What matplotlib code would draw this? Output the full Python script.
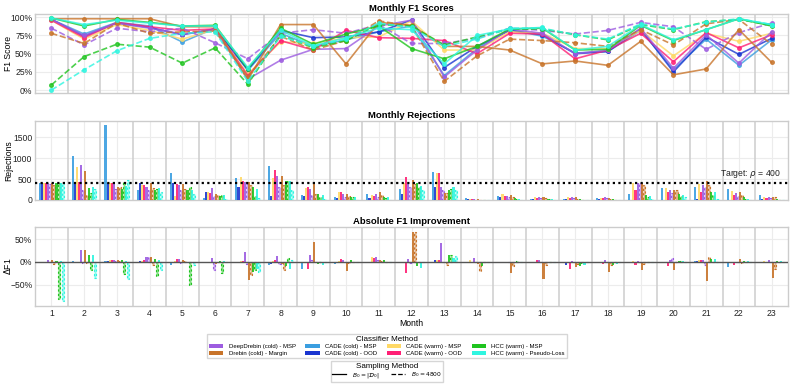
import numpy as np
import matplotlib
matplotlib.use("Agg")
import matplotlib.pyplot as plt
from matplotlib.patches import Patch
from matplotlib.lines import Line2D
from matplotlib.ticker import FuncFormatter
import matplotlib.colors as mcolors

plt.rcParams['font.family'] = ['Liberation Sans', 'DejaVu Sans']

months = list(range(1, 24))

# ---------------- data ----------------
methods = ['CADE (cold) - MSP', 'CADE (cold) - OOD', 'CADE (warm) - MSP', 'CADE (warm) - OOD',
           'DeepDrebin (cold) - MSP', 'Drebin (cold) - Margin', 'HCC (warm) - MSP', 'HCC (warm) - Pseudo-Loss']
colors = {'CADE (cold) - MSP': '#3a9ee0', 'CADE (cold) - OOD': '#1a35d0',
          'CADE (warm) - MSP': '#ffd966', 'CADE (warm) - OOD': '#ff1f75',
          'DeepDrebin (cold) - MSP': '#9d5ce0', 'Drebin (cold) - Margin': '#c8742a',
          'HCC (warm) - MSP': '#1fc41f', 'HCC (warm) - Pseudo-Loss': '#2ff5e0'}
legend_order = ['DeepDrebin (cold) - MSP', 'Drebin (cold) - Margin', 'CADE (cold) - MSP', 'CADE (cold) - OOD',
                'CADE (warm) - MSP', 'CADE (warm) - OOD', 'HCC (warm) - MSP', 'HCC (warm) - Pseudo-Loss']
sampling = ['full', '4800']

# Monthly F1 (%)
f1_cade_cold_msp = [97, 77, 93, 88, 66, 85, 27, 78, 60, 69, 80, 88, 20, 57, 83, 74, 51, 53, 82, 28, 70, 34, 69]
f1_cade_cold_ood = [97, 74, 92, 86, 76, 84, 28, 82, 72, 73, 80, 96, 31, 60, 82, 76, 50, 53, 84, 25, 73, 49, 71]
f1_cade_warm_msp = [96, 70, 90, 82, 70, 83, 22, 66, 64, 72, 73, 95, 55, 55, 80, 78, 57, 57, 82, 47, 78, 67, 78]
f1_cade_warm_ood = [96, 72, 93, 87, 82, 84, 20, 68, 55, 82, 72, 71, 68, 50, 78, 77, 43, 55, 78, 39, 79, 58, 76]
f1_deepdrebin = [97, 75, 92, 85, 77, 83, 15, 41, 56, 57, 88, 96, 18, 55, 84, 78, 50, 55, 85, 30, 76, 37, 80]
f1_deepdrebin_4800 = [85, 62, 85, 80, 85, 65, 43, 78, 83, 78, 90, 64, 64, 71, 85, 82, 77, 82, 93, 87, 56, 79, 92]
f1_drebin = [98, 98, 98, 98, 87, 87, 14, 90, 90, 36, 93, 89, 60, 60, 55, 36, 40, 34, 67, 21, 29, 83, 38]
f1_drebin_4800 = [78, 64, 92, 78, 80, 81, 18, 74, 55, 68, 95, 88, 12, 47, 70, 68, 65, 60, 83, 62, 91, 97, 63]
f1_hcc_msp = [99, 88, 97, 93, 88, 89, 29, 85, 63, 77, 88, 57, 43, 60, 84, 85, 55, 56, 89, 68, 83, 98, 88]
f1_hcc_msp_4800 = [7, 46, 63, 59, 37, 58, 8, 76, 58, 68, 90, 88, 62, 73, 84, 84, 76, 69, 90, 83, 94, 97, 89]
f1_hcc_pl = [99, 90, 96, 92, 88, 88, 31, 82, 61, 72, 85, 83, 36, 75, 84, 86, 55, 60, 90, 69, 83, 98, 90]
f1_hcc_pl_4800 = [0, 28, 54, 71, 78, 80, 12, 74, 60, 70, 92, 86, 60, 70, 85, 85, 76, 70, 91, 84, 93, 98, 90]

# Monthly rejections
rej_cade_cold_msp = [400, 1050, 1800, 250, 640, 40, 520, 820, 110, 80, 150, 270, 660, 40, 90, 20, 20, 40, 150, 290, 300, 260, 120]
rej_cade_cold_ood = [400, 430, 400, 400, 400, 180, 320, 100, 100, 40, 40, 140, 320, 20, 60, 20, 30, 30, 10, 10, 20, 10, 20]
rej_cade_warm_msp = [400, 800, 400, 370, 100, 180, 560, 530, 280, 180, 130, 400, 650, 20, 150, 60, 60, 50, 400, 290, 380, 220, 80]
rej_cade_warm_ood = [400, 430, 400, 370, 390, 170, 460, 720, 310, 180, 100, 560, 640, 20, 100, 50, 40, 50, 240, 200, 200, 130, 40]
rej_deepdrebin = [400, 830, 380, 320, 370, 280, 420, 570, 270, 150, 150, 390, 320, 20, 100, 70, 60, 70, 400, 240, 370, 160, 70]
rej_deepdrebin_4800 = [380, 250, 270, 230, 240, 100, 380, 310, 130, 70, 80, 300, 230, 10, 60, 40, 40, 40, 400, 160, 300, 100, 40]
rej_drebin = [400, 690, 320, 400, 380, 150, 430, 580, 390, 150, 180, 490, 170, 20, 130, 80, 60, 50, 400, 250, 460, 200, 80]
rej_drebin_4800 = [350, 120, 320, 290, 270, 120, 350, 350, 150, 90, 120, 380, 170, 10, 60, 40, 30, 30, 360, 250, 350, 130, 60]
rej_hcc_msp = [400, 290, 270, 250, 250, 100, 320, 460, 140, 80, 60, 400, 250, 5, 40, 30, 20, 20, 120, 150, 180, 60, 20]
rej_hcc_msp_4800 = [400, 170, 420, 270, 300, 130, 100, 450, 80, 70, 40, 300, 270, 5, 30, 20, 10, 10, 60, 100, 120, 30, 10]
rej_hcc_pl = [400, 320, 330, 290, 240, 130, 270, 460, 130, 60, 60, 330, 320, 5, 20, 20, 10, 10, 100, 120, 180, 30, 10]
rej_hcc_pl_4800 = [400, 270, 480, 190, 140, 30, 40, 230, 20, 10, 10, 230, 230, 5, 10, 10, 5, 5, 30, 60, 20, 5, 5]
target_rho = 400

# Absolute F1 improvement (%)
d_cade_cold_msp = [0, 2, 2, -2, -7, 0, -2, -7, -15, -4, 0, 0, 0, -3, -2, 0, 0, -1, 0, 0, 2, -12, 0]
d_cade_cold_ood = [0, 0, 2, 1, -2, 0, 0, -4, -2, 0, 0, 0, 3, -2, -2, 0, -8, 0, 0, 0, 2, 0, 0]
d_cade_warm_msp = [0, 0, 3, 2, 1, 0, 2, 1, -3, 2, 10, 0, 4, 3, -1, 0, 0, 0, 1, 0, 4, -3, 1]
d_cade_warm_ood = [0, 0, 4, 3, 6, 0, 2, 3, -16, 7, 8, -25, 4, -2, -3, 3, -16, -5, -8, -10, 4, -7, 0]
d_deepdrebin = [3, 26, 5, 10, 6, 9, 21, 12, 14, 3, 10, 7, 42, 8, 0, 4, 2, 3, 2, 4, 5, -2, 3]
d_deepdrebin_4800 = [0, -3, 2, 10, -2, -18, -5, -5, 5, 0, 5, -2, 0, 0, 0, 0, 0, 0, 0, 9, -8, 0, 0]
d_drebin = [3, 26, 3, 10, 4, -4, -40, -5, 43, -20, 3, 65, 0, -5, -25, -38, -12, -22, -17, -17, -43, 7, -35]
d_drebin_4800 = [-5, -3, 2, -7, 1, 0, -30, -17, 0, -2, 2, 65, -8, -20, -10, -6, -5, -7, -4, 0, 10, -3, -15]
d_hcc_msp = [2, 14, 4, 7, -3, 2, -23, -10, -5, 3, 3, -10, 15, -10, 0, 0, -10, -8, 0, 2, 7, 2, 2]
d_hcc_msp_4800 = [-82, -17, -27, -32, -50, -24, -18, 9, 0, 0, 0, 0, 15, 0, 1, 0, -3, 0, 0, 2, 0, 0, 0]
d_hcc_pl = [1, 15, 2, 4, -2, 2, -15, -15, -8, -3, -3, -13, 8, -2, 0, 0, -8, -5, 0, 2, 7, 1, 2]
d_hcc_pl_4800 = [-87, -36, -37, -18, -8, 0, -22, 4, 0, 0, 0, 0, 13, 0, 0, 0, 0, 0, 0, 0, 0, 0, 0]

series = [
    ('CADE (cold) - MSP', 'full', f1_cade_cold_msp, rej_cade_cold_msp, d_cade_cold_msp),
    ('CADE (cold) - OOD', 'full', f1_cade_cold_ood, rej_cade_cold_ood, d_cade_cold_ood),
    ('CADE (warm) - MSP', 'full', f1_cade_warm_msp, rej_cade_warm_msp, d_cade_warm_msp),
    ('CADE (warm) - OOD', 'full', f1_cade_warm_ood, rej_cade_warm_ood, d_cade_warm_ood),
    ('DeepDrebin (cold) - MSP', 'full', f1_deepdrebin, rej_deepdrebin, d_deepdrebin),
    ('DeepDrebin (cold) - MSP', '4800', f1_deepdrebin_4800, rej_deepdrebin_4800, d_deepdrebin_4800),
    ('Drebin (cold) - Margin', 'full', f1_drebin, rej_drebin, d_drebin),
    ('Drebin (cold) - Margin', '4800', f1_drebin_4800, rej_drebin_4800, d_drebin_4800),
    ('HCC (warm) - MSP', 'full', f1_hcc_msp, rej_hcc_msp, d_hcc_msp),
    ('HCC (warm) - MSP', '4800', f1_hcc_msp_4800, rej_hcc_msp_4800, d_hcc_msp_4800),
    ('HCC (warm) - Pseudo-Loss', 'full', f1_hcc_pl, rej_hcc_pl, d_hcc_pl),
    ('HCC (warm) - Pseudo-Loss', '4800', f1_hcc_pl_4800, rej_hcc_pl_4800, d_hcc_pl_4800),
]

# ---------------- figure ----------------
W, H = 793, 385
fig = plt.figure(figsize=(W / 100, H / 100), dpi=100)
LEFT, RIGHT = 35, 788

def ax_at(top, bottom, left=LEFT, right=RIGHT):
    return fig.add_axes([left / W, 1 - bottom / H, (right - left) / W, (bottom - top) / H])

ax1 = ax_at(14, 93)
ax2 = ax_at(121, 200)
ax3 = ax_at(227, 306)

x = np.array(months, dtype=float)
nb = len(series)
bw = 0.063

def lighten(c, f=0.5):
    r, g, b = mcolors.to_rgb(c)
    return (r + (1 - r) * f, g + (1 - g) * f, b + (1 - b) * f)

ylab_x = (13 - LEFT) / (RIGHT - LEFT)

for ax in (ax1, ax2, ax3):
    ax.set_facecolor('white')
    ax.set_xlim(0.5, 23.5)
    ax.set_xticks(months)
    ax.grid(True, color='#ececec', lw=0.8)
    ax.set_axisbelow(True)
    for m in months[:-1]:
        ax.axvline(m + 0.5, color='#cdcdcd', lw=1.1, zorder=1)
    for s in ax.spines.values():
        s.set_color('#cccccc')
        s.set_linewidth(1.0)
    ax.tick_params(axis='both', length=0, labelsize=6.2, pad=2, colors='#222222')

# Top: F1 lines
for name, samp, f1, _, _ in series:
    ls = '-' if samp == 'full' else '--'
    ax1.plot(x, np.array(f1) / 100, ls=ls, color=colors[name], lw=1.2, marker='o', ms=2.6, alpha=0.8, zorder=3)
ax1.set_ylim(-0.04, 1.045)
ax1.set_yticks([0, 0.25, 0.5, 0.75, 1.0])
ax1.yaxis.set_major_formatter(FuncFormatter(lambda v, p: f"{v*100:.0f}%"))
ax1.set_xticklabels([])
ax1.set_ylabel('F1 Score', fontsize=6.2)
ax1.set_title('Monthly F1 Scores', fontsize=6.8, fontweight='bold', pad=2.5)

# Middle: rejections / bottom: delta
for i, (name, samp, _, rej, d) in enumerate(series):
    xo = x + (i - (nb - 1) / 2) * bw
    c = colors[name]
    for ax, vals in ((ax2, np.array(rej, dtype=float)), (ax3, np.array(d) / 100)):
        if samp == 'full':
            ax.bar(xo, vals, width=bw, color=c, alpha=0.9, lw=0, zorder=3)
        else:
            ax.bar(xo, vals, width=bw, facecolor=lighten(c, 0.45), edgecolor=c,
                   linestyle=(0, (2, 2)), lw=0.8, zorder=3)

ax2.axhline(target_rho, color='black', ls=(0, (1, 1.5)), lw=1.6, zorder=4)
ax2.text(23.3, target_rho + 70, r'Target: $\rho$ = 400', ha='right', va='bottom', fontsize=6.2, color='#222222')
ax2.set_ylim(0, 1890)
ax2.set_yticks([0, 500, 1000, 1500])
ax2.set_xticklabels([])
ax2.set_ylabel('Rejections', fontsize=6.2)
ax2.set_title('Monthly Rejections', fontsize=6.8, fontweight='bold', pad=2.5)

ax3.axhline(0, color='#555555', lw=1.0, zorder=4)
ax3.set_ylim(-0.97, 0.765)
ax3.set_yticks([-0.5, 0, 0.5])
ax3.yaxis.set_major_formatter(FuncFormatter(lambda v, p: f"{v*100:.0f}%".replace('-', '\u2212')))
ax3.set_ylabel(r'$\Delta$F1', fontsize=6.2)
ax3.set_xlabel('Month', fontsize=6.2, labelpad=1)
ax3.set_title('Absolute F1 Improvement', fontsize=6.8, fontweight='bold', pad=2.5)

for ax in (ax1, ax2, ax3):
    ax.yaxis.set_label_coords(ylab_x, 0.5)

# Legends
h1 = [Patch(facecolor=colors[m], edgecolor='none') for m in legend_order]
leg1 = fig.legend(h1, legend_order, loc='upper center', bbox_to_anchor=(387 / W, 1 - 331 / H),
                  ncol=4, fontsize=4.3, title='Classifier Method', title_fontsize=5.8,
                  frameon=True, fancybox=False, edgecolor='#cccccc', handlelength=2.4, handleheight=0.6,
                  columnspacing=1.6, labelspacing=0.25, borderpad=0.3, handletextpad=0.9)
h2 = [Line2D([0], [0], color='black', lw=0.9, ls='-'), Line2D([0], [0], color='black', lw=0.9, ls='--')]
leg2 = fig.legend(h2, [r'$B_0 = |\mathcal{D}_0|$', r'$B_0 = 4800$'], loc='upper center',
                  bbox_to_anchor=(387 / W, 1 - 358.5 / H), ncol=2, fontsize=4.3, title='Sampling Method',
                  title_fontsize=5.8, frameon=True, fancybox=False, edgecolor='#cccccc', handlelength=2.4,
                  columnspacing=2.0, borderpad=0.25, handletextpad=0.9, labelspacing=0.1)

fig.savefig('out.png', dpi=100, facecolor='white')
